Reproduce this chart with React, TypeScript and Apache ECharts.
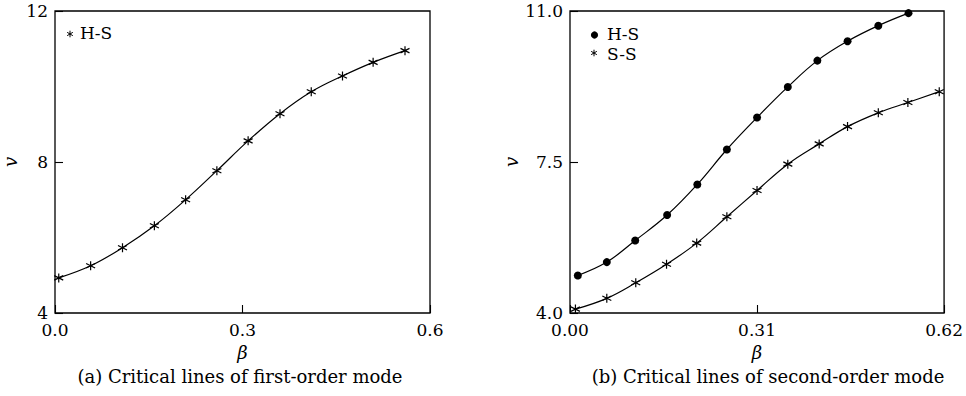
import React, { useEffect, useRef } from "react";
import * as echarts from "echarts";

// (a) first-order mode, H-S boundary
const betaA_HS = [0.006, 0.057, 0.108, 0.159, 0.209, 0.259, 0.309, 0.36, 0.41, 0.46, 0.509, 0.56];
const vA_HS = [4.93, 5.25, 5.73, 6.31, 7.0, 7.77, 8.56, 9.28, 9.86, 10.28, 10.64, 10.95];

// (b) second-order mode, H-S and S-S boundaries
const betaB_HS = [0.013, 0.061, 0.108, 0.161, 0.211, 0.26, 0.31, 0.361, 0.41, 0.46, 0.511, 0.561];
const vB_HS = [4.87, 5.18, 5.68, 6.27, 6.98, 7.79, 8.53, 9.24, 9.85, 10.3, 10.66, 10.95];
const betaB_SS = [0.009, 0.061, 0.109, 0.16, 0.21, 0.26, 0.31, 0.361, 0.413, 0.46, 0.511, 0.56, 0.612];
const vB_SS = [4.09, 4.34, 4.7, 5.13, 5.62, 6.23, 6.84, 7.45, 7.92, 8.32, 8.64, 8.88, 9.13];

// axis ticks
const xTicksA = [0, 0.3, 0.6];
const yTicksA = [4, 8, 12];
const xTicksB = [0, 0.31, 0.62];
const yTicksB = [4, 7.5, 11];

const captionA = "(a) Critical lines of first-order mode";
const captionB = "(b) Critical lines of second-order mode";

const FONT = "DejaVu Serif";
const ASTERISK = "path://M5,0L5,10M0.67,2.5L9.33,7.5M0.67,7.5L9.33,2.5";

const pairs = (xs: number[], ys: number[]) => xs.map((x, i) => [x, ys[i]]);

function asteriskGraphic(cx: number, cy: number, r: number) {
  const arms = [0, 60, 120].map((deg) => {
    const a = (deg * Math.PI) / 180;
    const dx = Math.sin(a) * r;
    const dy = Math.cos(a) * r;
    return {
      type: "line",
      shape: { x1: cx - dx, y1: cy - dy, x2: cx + dx, y2: cy + dy },
      style: { stroke: "#000", lineWidth: 1 },
    };
  });
  return { type: "group", children: arms };
}

function legendText(x: number, y: number, text: string) {
  return {
    type: "text",
    x,
    y,
    style: {
      text,
      fill: "#000",
      font: `17px "${FONT}"`,
      verticalAlign: "middle",
      align: "left",
    },
  };
}

export default function App() {
  const ref = useRef<HTMLDivElement>(null);

  useEffect(() => {
    if (!ref.current) return;
    const chart = echarts.init(ref.current, null, { renderer: "svg" });

    const tickStyle = { color: "#000", width: 1.1 };
    const labelStyle = { color: "#000", fontFamily: FONT, fontSize: 17, lineHeight: 14 };
    const nameStyle = { color: "#000", fontFamily: FONT, fontSize: 18, fontStyle: "italic" as const };
    const captionStyle = { color: "#000", fontFamily: FONT, fontSize: 18, fontWeight: "normal" as const };

    const makeX = (gridIndex: number, ticks: number[], digits: number) => ({
      type: "value",
      gridIndex,
      min: ticks[0],
      max: ticks[ticks.length - 1],
      interval: ticks[1] - ticks[0],
      name: "β",
      nameLocation: "middle",
      nameGap: 27,
      nameTextStyle: nameStyle,
      axisLine: { show: false },
      axisTick: { show: true, inside: true, length: 8, lineStyle: tickStyle },
      splitLine: { show: false },
      axisLabel: { ...labelStyle, margin: 10, formatter: (v: number) => v.toFixed(digits) },
    });

    const makeY = (gridIndex: number, ticks: number[], digits: number, gap: number) => ({
      type: "value",
      gridIndex,
      min: ticks[0],
      max: ticks[ticks.length - 1],
      name: "v",
      nameLocation: "middle",
      nameRotate: 90,
      nameGap: gap,
      nameTextStyle: nameStyle,
      axisLine: { show: false },
      axisTick: { show: true, inside: true, length: 8, lineStyle: tickStyle, customValues: ticks },
      splitLine: { show: false },
      axisLabel: {
        ...labelStyle,
        margin: 7,
        customValues: ticks,
        formatter: (v: number) => v.toFixed(digits),
      },
    });

    const lineStyle = { color: "#000", width: 1.2 };

    chart.setOption({
      animation: false,
      backgroundColor: "#fff",
      grid: [
        { left: 52, top: 11, width: 378, height: 302, show: true, borderColor: "#000", borderWidth: 1.3, backgroundColor: "transparent" },
        { left: 570, top: 11, width: 378, height: 302, show: true, borderColor: "#000", borderWidth: 1.3, backgroundColor: "transparent" },
      ],
      xAxis: [makeX(0, xTicksA, 1), makeX(1, xTicksB, 2)],
      yAxis: [makeY(0, yTicksA, 0, 36), makeY(1, yTicksB, 1, 50)],
      title: [
        {
          text: captionA,
          left: 240,
          top: 367,
          textAlign: "center",
          textStyle: captionStyle,
          padding: 0,
        },
        {
          text: captionB,
          left: 768,
          top: 367,
          textAlign: "center",
          textStyle: captionStyle,
          padding: 0,
        },
      ],
      graphic: [
        asteriskGraphic(70, 34, 3.3),
        legendText(80, 33, "H-S"),
        { type: "circle", shape: { cx: 594.5, cy: 35, r: 3.6 }, style: { fill: "#000" } },
        legendText(607, 34, "H-S"),
        asteriskGraphic(594, 53, 3.3),
        legendText(607, 54, "S-S"),
      ],
      series: [
        {
          name: "H-S",
          type: "line",
          xAxisIndex: 0,
          yAxisIndex: 0,
          data: pairs(betaA_HS, vA_HS),
          smooth: 0.4,
          symbol: ASTERISK,
          symbolSize: 9,
          lineStyle,
          itemStyle: { color: "#000", borderColor: "#000", borderWidth: 1.2 },
        },
        {
          name: "H-S",
          type: "line",
          xAxisIndex: 1,
          yAxisIndex: 1,
          data: pairs(betaB_HS, vB_HS),
          smooth: 0.4,
          symbol: "circle",
          symbolSize: 8,
          lineStyle,
          itemStyle: { color: "#000" },
        },
        {
          name: "S-S",
          type: "line",
          xAxisIndex: 1,
          yAxisIndex: 1,
          data: pairs(betaB_SS, vB_SS),
          smooth: 0.4,
          symbol: ASTERISK,
          symbolSize: 9,
          lineStyle,
          itemStyle: { color: "#000", borderColor: "#000", borderWidth: 1.2 },
        },
      ],
    });

    return () => chart.dispose();
  }, []);

  return (
    <div
      ref={ref}
      style={{ position: "absolute", left: 0, top: 0, width: 966, height: 396 }}
    />
  );
}
